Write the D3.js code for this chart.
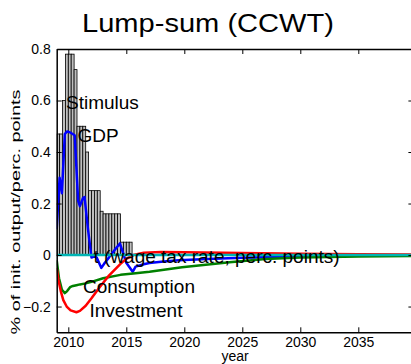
<!DOCTYPE html>
<html>
<head>
<meta charset="utf-8">
<script src="https://cdn.jsdelivr.net/npm/d3@7"></script>
<style>
  html, body { margin: 0; padding: 0; background: #fff; }
  svg { display: block; }
  text { font-family: "Liberation Sans", Arial, Helvetica, sans-serif; fill: #000; }
</style>
</head>
<body>
<svg id="chart" width="411" height="364"></svg>
<script>
// Quarterly stimulus outlays (share of initial output), starting 2009Q1
const stimulusStartYear = 2009;
const stimulus = [0.47, 0.47, 0.60, 0.78, 0.78, 0.78, 0.72, 0.50, 0.50, 0.50,
                  0.40, 0.25, 0.25, 0.25, 0.25, 0.17, 0.16, 0.16, 0.16, 0.16,
                  0.16, 0.16, 0.05, 0.05, 0.05, 0.05];

// Responses, [year, value]
const gdp = [[2009.0, 0.10], [2009.25, 0.30], [2009.45, 0.24], [2009.7, 0.47], [2009.9, 0.48],
             [2010.2, 0.475], [2010.55, 0.465], [2010.85, 0.21], [2011.0, 0.19], [2011.25, 0.22],
             [2011.4, 0.225], [2011.7, 0.10], [2012.0, -0.01], [2012.25, -0.005], [2012.45, -0.01],
             [2012.85, -0.05], [2013.15, -0.03], [2013.5, -0.01], [2014.0, 0.02], [2014.45, 0.045],
             [2015.0, -0.03], [2015.55, -0.065], [2015.8, -0.045], [2016.5, -0.036], [2017.0, -0.031],
             [2018.0, -0.026], [2019.5, -0.02], [2022.0, -0.015], [2025.0, -0.011], [2030.0, -0.006],
             [2035.0, -0.003], [2040.0, -0.001]];

const investment = [[2009.0, -0.05], [2009.15, -0.097], [2009.35, -0.14], [2009.57, -0.175],
                    [2009.86, -0.2], [2010.2, -0.215], [2010.7, -0.222], [2011.0, -0.217],
                    [2011.5, -0.197], [2012.0, -0.168], [2012.7, -0.125], [2013.5, -0.08],
                    [2014.5, -0.034], [2015.0, -0.015], [2015.6, 0.0], [2016.5, 0.009],
                    [2018.0, 0.012], [2020.0, 0.011], [2025.0, 0.008], [2030.0, 0.005],
                    [2035.0, 0.003], [2040.0, 0.002]];

const consumption = [[2009.0, -0.02], [2009.2, -0.09], [2009.45, -0.135], [2009.7, -0.148],
                     [2009.9, -0.14], [2010.15, -0.125], [2010.4, -0.12], [2010.7, -0.117],
                     [2011.0, -0.114], [2011.5, -0.11], [2012.0, -0.104], [2013.0, -0.09],
                     [2014.5, -0.077], [2015.6, -0.072], [2017.0, -0.065], [2019.8, -0.047],
                     [2023.9, -0.028], [2027.0, -0.015], [2030.0, -0.01], [2035.0, -0.006],
                     [2040.0, -0.004]];

const wageTax = [[2009.0, 0.0], [2040.0, 0.0]];

const xTicks = [2010, 2015, 2020, 2025, 2030, 2035];
const yTicks = [-0.2, 0, 0.2, 0.4, 0.6, 0.8];

const svg = d3.select("#chart");
const plotLeft = 56.7, plotTop = 49, plotBottom = 332.3;
const yearPx = 11.6;

const x = d3.scaleLinear().domain([2009, 2039.75])
  .range([plotLeft, plotLeft + 30.75 * yearPx]);
const y = d3.scaleLinear().domain([-0.3, 0.8]).range([plotBottom, plotTop]);
const plotRight = x.range()[1];

svg.append("defs").append("clipPath").attr("id", "plot")
  .append("rect").attr("x", plotLeft).attr("y", plotTop)
  .attr("width", plotRight - plotLeft).attr("height", plotBottom - plotTop);

const plot = svg.append("g").attr("clip-path", "url(#plot)");

// Stimulus bars
plot.append("g").selectAll("rect").data(stimulus).join("rect")
  .attr("x", (d, i) => x(stimulusStartYear + i / 4))
  .attr("width", (d, i) => x(stimulusStartYear + (i + 1) / 4) - x(stimulusStartYear + i / 4))
  .attr("y", d => y(Math.max(d, 0)))
  .attr("height", d => Math.abs(y(d) - y(0)))
  .attr("fill", "#bfbfbf")
  .attr("stroke", "#000")
  .attr("stroke-width", 0.8);

const line = d3.line().x(d => x(d[0])).y(d => y(d[1]));

const series = [
  { data: gdp, color: "#0000ff" },
  { data: consumption, color: "#008000" },
  { data: investment, color: "#ff0000" },
  { data: wageTax, color: "#00b4b4" }
];

plot.selectAll("path.series").data(series).join("path")
  .attr("class", "series")
  .attr("d", d => line(d.data))
  .attr("fill", "none")
  .attr("stroke", d => d.color)
  .attr("stroke-width", 2.5)
  .attr("stroke-linejoin", "round");

// Axes box with inward ticks
const axes = svg.append("g");
const tickLen = 5;

axes.append("g").attr("transform", `translate(0,${plotBottom})`)
  .call(d3.axisBottom(x).tickValues(xTicks).tickSizeInner(-tickLen).tickSizeOuter(0).tickPadding(4.5).tickFormat(d3.format("d")));
axes.append("g").attr("transform", `translate(0,${plotTop})`)
  .call(d3.axisTop(x).tickValues(xTicks).tickSizeInner(-tickLen).tickSizeOuter(0).tickFormat(""));
axes.append("g").attr("transform", `translate(${plotLeft},0)`)
  .call(d3.axisLeft(y).tickValues(yTicks).tickSizeInner(-tickLen).tickSizeOuter(0).tickPadding(6)
    .tickFormat(d => d === 0 ? "0" : d3.format(".1f")(d).replace("-", "\u2212")));
axes.append("g").attr("transform", `translate(${plotRight},0)`)
  .call(d3.axisRight(y).tickValues(yTicks).tickSizeInner(-tickLen).tickSizeOuter(0).tickFormat(""));

axes.selectAll(".domain").attr("stroke", "#000").attr("stroke-width", 1.5);
axes.selectAll(".tick line").attr("stroke", "#000").attr("stroke-width", 1);
axes.selectAll(".tick text").attr("font-size", 14).attr("font-family", null).attr("fill", "#000");

// Titles
svg.append("text").attr("x", 208).attr("y", 32).attr("text-anchor", "middle")
  .attr("font-size", 25).attr("textLength", 252).attr("lengthAdjust", "spacingAndGlyphs")
  .text("Lump-sum (CCWT)");
svg.append("text").attr("x", (plotLeft + plotRight) / 2).attr("y", 361).attr("text-anchor", "middle")
  .attr("font-size", 14).text("year");
svg.append("text").attr("transform", `translate(20,212) rotate(-90)`)
  .attr("text-anchor", "middle").attr("font-size", 13)
  .attr("textLength", 245).attr("lengthAdjust", "spacingAndGlyphs")
  .text("% of init. output/perc. points");

// Series labels
const labels = [
  { text: "Stimulus", x: 66, y: 108.5 },
  { text: "GDP", x: 77.5, y: 141.5 },
  { text: "t (wage tax rate, perc. points)", x: 93.5, y: 262.5 },
  { text: "Consumption", x: 83, y: 293 },
  { text: "Investment", x: 89.5, y: 317 }
];
svg.append("g").selectAll("text").data(labels).join("text")
  .attr("x", d => d.x).attr("y", d => d.y)
  .attr("font-size", 19)
  .text(d => d.text);
</script>
</body>
</html>
